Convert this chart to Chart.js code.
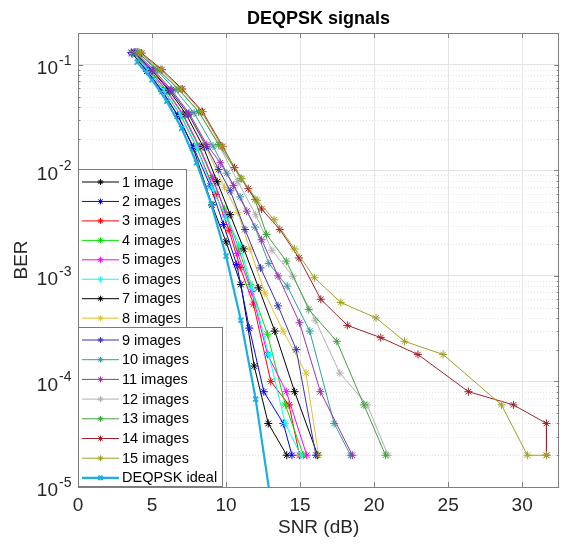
<!DOCTYPE html>
<html><head><meta charset="utf-8">
<script src="https://cdn.jsdelivr.net/npm/chart.js@4.4.0/dist/chart.umd.min.js"></script>
<style>html,body{margin:0;padding:0;background:#fff;overflow:hidden}</style>
</head><body><canvas id="c" width="565" height="546"></canvas>
<script>
const chartTitle = 'DEQPSK signals';
const xTitle = 'SNR (dB)';
const yTitle = 'BER';
const seriesNames = ['1 image','2 images','3 images','4 images','5 images','6 images','7 images','8 images',
  '9 images','10 images','11 images','12 images','13 images','14 images','15 images','DEQPSK ideal'];
const xTicks = [0,5,10,15,20,25,30];
const yTickValues = [1e-5,1e-4,1e-3,1e-2,1e-1];
const yTickBase = '10';
const yTickExponents = ['-5','-4','-3','-2','-1'];

const snr1 = [3.65,4.68,5.71,6.74,7.77,9.05,10.0,11.0,11.9,12.85,14.1];
const ber1 = [0.128,0.087,0.056,0.033,0.0165,0.0047,0.0021,0.00083,0.00014,0.00004,0.00002];
const snr2 = [3.6,4.65,5.7,6.75,7.8,8.94,9.83,10.72,11.57,12.55,13.87,14.45];
const ber2 = [0.131,0.087,0.056,0.033,0.0165,0.0071,0.00306,0.00128,0.00032,0.00008,0.00004,0.00002];
const snr3 = [3.7,4.78,5.86,6.94,8.02,9.32,10.2,10.95,11.85,13.02,14.25,14.96];
const ber3 = [0.129,0.087,0.056,0.033,0.0165,0.0059,0.0027,0.0012,0.00054,0.0001,0.00006,0.00002];
const snr4 = [3.75,4.85,5.95,7.05,8.15,9.05,9.9,10.84,11.62,12.8,14.0,15.23];
const ber4 = [0.13,0.088,0.057,0.034,0.0168,0.0085,0.0043,0.00184,0.00083,0.00028,0.00006,0.00002];
const snr5 = [3.8,4.9,6.0,7.1,8.2,9.1,10.0,10.79,11.73,12.8,14.07,15.45];
const ber5 = [0.13,0.088,0.057,0.034,0.0168,0.0085,0.0038,0.00163,0.00071,0.00018,0.00008,0.00002];
const snr6 = [3.7,4.78,5.86,6.94,8.02,9.05,10.0,10.95,11.73,12.88,14.0,15.05];
const ber6 = [0.128,0.087,0.056,0.033,0.0165,0.0068,0.0036,0.00195,0.00077,0.00018,0.00004,0.00002];
const snr7 = [3.85,5.0,6.15,7.3,8.45,9.4,10.28,11.2,12.2,13.29,14.63,16.19];
const ber7 = [0.13,0.088,0.057,0.034,0.0168,0.0078,0.0038,0.0018,0.00077,0.0003,0.00008,0.00002];
const snr8 = [3.9,5.08,6.26,7.44,8.62,9.9,10.79,11.62,12.62,13.85,15.4,16.25];
const ber8 = [0.131,0.088,0.057,0.034,0.0168,0.0069,0.004,0.00178,0.00069,0.0003,0.00012,0.00002];
const snr9 = [3.8,5.02,6.24,7.46,8.68,9.5,10.28,11.28,12.33,13.51,14.74,16.07];
const ber9 = [0.131,0.088,0.057,0.034,0.0168,0.0102,0.0064,0.00275,0.00119,0.00052,0.0002,0.00002];
const snr10 = [4.0,5.28,6.56,7.84,9.12,10.05,10.95,11.95,12.89,14.13,15.65,17.3,18.41];
const ber10 = [0.132,0.09,0.058,0.035,0.017,0.0094,0.0056,0.0029,0.00131,0.0008,0.0003,0.00004,0.00002];
const snr11 = [3.9,5.1,6.3,7.5,8.7,9.61,10.5,11.4,12.4,13.51,14.96,16.37,18.53];
const ber11 = [0.131,0.09,0.058,0.035,0.0175,0.0118,0.0072,0.0041,0.0022,0.001,0.00036,0.00008,0.00002];
const snr12 = [4.1,5.45,6.8,8.15,9.5,10.8,12.0,13.1,14.51,16.03,17.68,19.53,20.94];
const ber12 = [0.133,0.09,0.059,0.036,0.0175,0.0078,0.0038,0.00175,0.00099,0.00038,0.00012,0.00006,0.00002];
const snr13 = [4.0,5.38,6.76,8.14,9.52,11.0,11.95,12.73,14.07,15.59,17.48,19.31,20.77];
const ber13 = [0.132,0.09,0.059,0.036,0.0175,0.0084,0.0053,0.00247,0.00138,0.00048,0.00024,0.00006,0.00002];
const snr14 = [4.3,5.67,7.04,8.41,9.78,10.57,11.5,12.4,13.63,14.92,16.4,18.19,20.45,22.96,26.37,29.41,31.64,31.64];
const ber14 = [0.129,0.09,0.059,0.036,0.0168,0.0106,0.0067,0.0043,0.00275,0.00148,0.0006,0.00034,0.00026,0.00018,0.00008,0.00006,0.00004,0.00002];
const snr15 = [4.2,5.58,6.96,8.34,9.72,11.06,12.1,13.24,14.63,15.97,17.75,20.13,22.05,24.66,28.6,30.35,31.64];
const ber15 = [0.13,0.09,0.059,0.036,0.0168,0.0083,0.0052,0.0034,0.0018,0.00096,0.00056,0.0004,0.00024,0.00018,0.00006,0.00002,0.00002];
const snrIdeal = [4,5,6,7,8,9,10,11,12,13];
const berIdeal = [0.106,0.072,0.045,0.025,0.0118,0.0048,0.00154,0.00038,0.000068,0.0000077];

const snrSeries = [snr1,snr2,snr3,snr4,snr5,snr6,snr7,snr8,snr9,snr10,snr11,snr12,snr13,snr14,snr15,snrIdeal];
const berSeries = [ber1,ber2,ber3,ber4,ber5,ber6,ber7,ber8,ber9,ber10,ber11,ber12,ber13,ber14,ber15,berIdeal];
const colors = ['#000000','#0000ff','#ff0000','#00e000','#ff00ff','#00ffff','#000000','#e0c030',
  '#3535b0','#2e9e9e','#a030b0','#b0b0b0','#40a040','#a0202a','#a0a020','#1aaee3'];

const FONT = "'Liberation Sans', Arial, sans-serif";
const TXT = '#262626';

const datasets = seriesNames.map((name, i) => {
  const ideal = i === seriesNames.length - 1;
  return {
    label: name,
    data: snrSeries[i].map((x, k) => ({x: x, y: berSeries[i][k]})),
    borderColor: colors[i],
    backgroundColor: colors[i],
    pointBorderColor: colors[i],
    borderWidth: ideal ? 2.2 : 1,
    pointStyle: ideal ? 'crossRot' : 'star',
    pointRadius: ideal ? 3.5 : 4,
    pointBorderWidth: ideal ? 1.8 : 1,
    tension: 0,
    order: seriesNames.length - i
  };
});

const matlabPlugin = {
  id: 'matlab',
  beforeDatasetsDraw(chart) {
    const {ctx, chartArea: a, scales: {y}} = chart;
    ctx.save();
    ctx.strokeStyle = '#e4e4e4'; ctx.lineWidth = 1; ctx.setLineDash([1, 2]);
    for (let e = -5; e <= -1; e++) for (let m = 2; m <= 9; m++) {
      const v = m * Math.pow(10, e); if (v > y.max) continue;
      const py = Math.round(y.getPixelForValue(v)) + 0.5;
      ctx.beginPath(); ctx.moveTo(a.left, py); ctx.lineTo(a.right, py); ctx.stroke();
    }
    ctx.restore();
  },
  afterDatasetsDraw(chart) {
    const {ctx, chartArea: a, scales: {x, y}} = chart;
    const H = Chart.helpers;
    ctx.save();
    // axes box
    ctx.strokeStyle = '#808080'; ctx.lineWidth = 1; ctx.setLineDash([]);
    ctx.strokeRect(Math.round(a.left) + 0.5, Math.round(a.top) + 0.5, Math.round(a.right - a.left) - 1, Math.round(a.bottom - a.top));
    // inward ticks
    ctx.beginPath();
    xTicks.forEach(v => {
      const px = Math.round(x.getPixelForValue(v)) + 0.5;
      ctx.moveTo(px, a.bottom); ctx.lineTo(px, a.bottom - 5);
      ctx.moveTo(px, a.top); ctx.lineTo(px, a.top + 5);
    });
    for (let e = -5; e <= -1; e++) for (let m = 1; m <= 9; m++) {
      const v = m * Math.pow(10, e); if (v > y.max) continue;
      const len = m === 1 ? 5 : 2.5;
      const py = Math.round(y.getPixelForValue(v)) + 0.5;
      ctx.moveTo(a.left, py); ctx.lineTo(a.left + len, py);
      ctx.moveTo(a.right, py); ctx.lineTo(a.right - len, py);
    }
    ctx.stroke();
    // exponents of the y tick labels
    ctx.fillStyle = TXT; ctx.font = '14px ' + FONT;
    ctx.textAlign = 'left'; ctx.textBaseline = 'middle';
    yTickValues.forEach((v, i) => {
      ctx.fillText(yTickExponents[i], a.left - 19, y.getPixelForValue(v) - 4);
    });
    // title
    ctx.fillStyle = '#000'; ctx.font = 'bold 18px ' + FONT;
    ctx.textAlign = 'center'; ctx.textBaseline = 'middle';
    ctx.fillText(chartTitle, (a.left + a.right) / 2, 19);
    // legends (two boxes like the reference)
    const boxes = [
      {l: a.left, t: a.top + 136, r: a.left + 108, b: a.top + 295, first: 0, n: 8, y0: a.top + 149, step: 19.45},
      {l: a.left, t: a.top + 294, r: a.left + 144, b: a.bottom, first: 8, n: 8, y0: a.top + 307, step: 19.7}
    ];
    ctx.font = '14.5px ' + FONT;
    ctx.textAlign = 'left';
    boxes.forEach(bx => {
      ctx.fillStyle = '#fff'; ctx.fillRect(bx.l, bx.t, bx.r - bx.l, bx.b - bx.t);
      ctx.strokeStyle = '#7a7a7a'; ctx.lineWidth = 1;
      ctx.strokeRect(Math.round(bx.l) + 0.5, Math.round(bx.t) + 0.5, Math.round(bx.r - bx.l), Math.round(bx.b - bx.t) - 1);
      for (let k = 0; k < bx.n; k++) {
        const ds = datasets[bx.first + k];
        const yy = bx.y0 + k * bx.step;
        ctx.strokeStyle = ds.borderColor; ctx.lineWidth = ds.borderWidth;
        ctx.beginPath(); ctx.moveTo(bx.l + 4, yy); ctx.lineTo(bx.l + 41, yy); ctx.stroke();
        ctx.fillStyle = ds.borderColor;
        H.drawPoint(ctx, {pointStyle: ds.pointStyle, radius: 3, borderWidth: ds.pointBorderWidth, rotation: 0}, bx.l + 22.5, yy);
        ctx.fillStyle = '#000';
        ctx.fillText(ds.label, bx.l + 44, yy + 0.5);
      }
    });
    ctx.restore();
  }
};

new Chart(document.getElementById('c'), {
  type: 'line',
  data: {datasets: datasets},
  options: {
    responsive: false, animation: false,
    layout: {padding: {top: 33, right: 1, left: 0, bottom: 0}},
    plugins: {legend: {display: false}, tooltip: {enabled: false}, title: {display: false}},
    scales: {
      x: {
        type: 'linear', min: 0, max: 32.5,
        afterFit(s) { s.height = 59; },
        afterBuildTicks(s) { s.ticks = xTicks.map(v => ({value: v})); },
        ticks: {autoSkip: false, maxRotation: 0, padding: 7, color: TXT, font: {family: FONT, size: 19},
          callback: (v) => String(v)},
        grid: {drawTicks: false, color: '#e6e6e6', lineWidth: 1},
        border: {display: false},
        title: {display: true, text: xTitle, color: TXT, font: {family: FONT, size: 19}, padding: {top: 0, bottom: 7}}
      },
      y: {
        type: 'logarithmic', min: 1e-5, max: 0.2,
        afterFit(s) { s.width = 78; },
        afterBuildTicks(s) { s.ticks = yTickValues.map(v => ({value: v, major: true})); },
        ticks: {autoSkip: false, padding: 20, labelOffset: 4, color: TXT, font: {family: FONT, size: 19},
          callback: () => yTickBase},
        grid: {drawTicks: false, color: '#e2e2e2', lineWidth: 1},
        border: {display: false},
        title: {display: true, text: yTitle, color: TXT, font: {family: FONT, size: 19}, padding: {top: 10, bottom: 0}}
      }
    }
  },
  plugins: [matlabPlugin]
});
</script>
</body></html>
